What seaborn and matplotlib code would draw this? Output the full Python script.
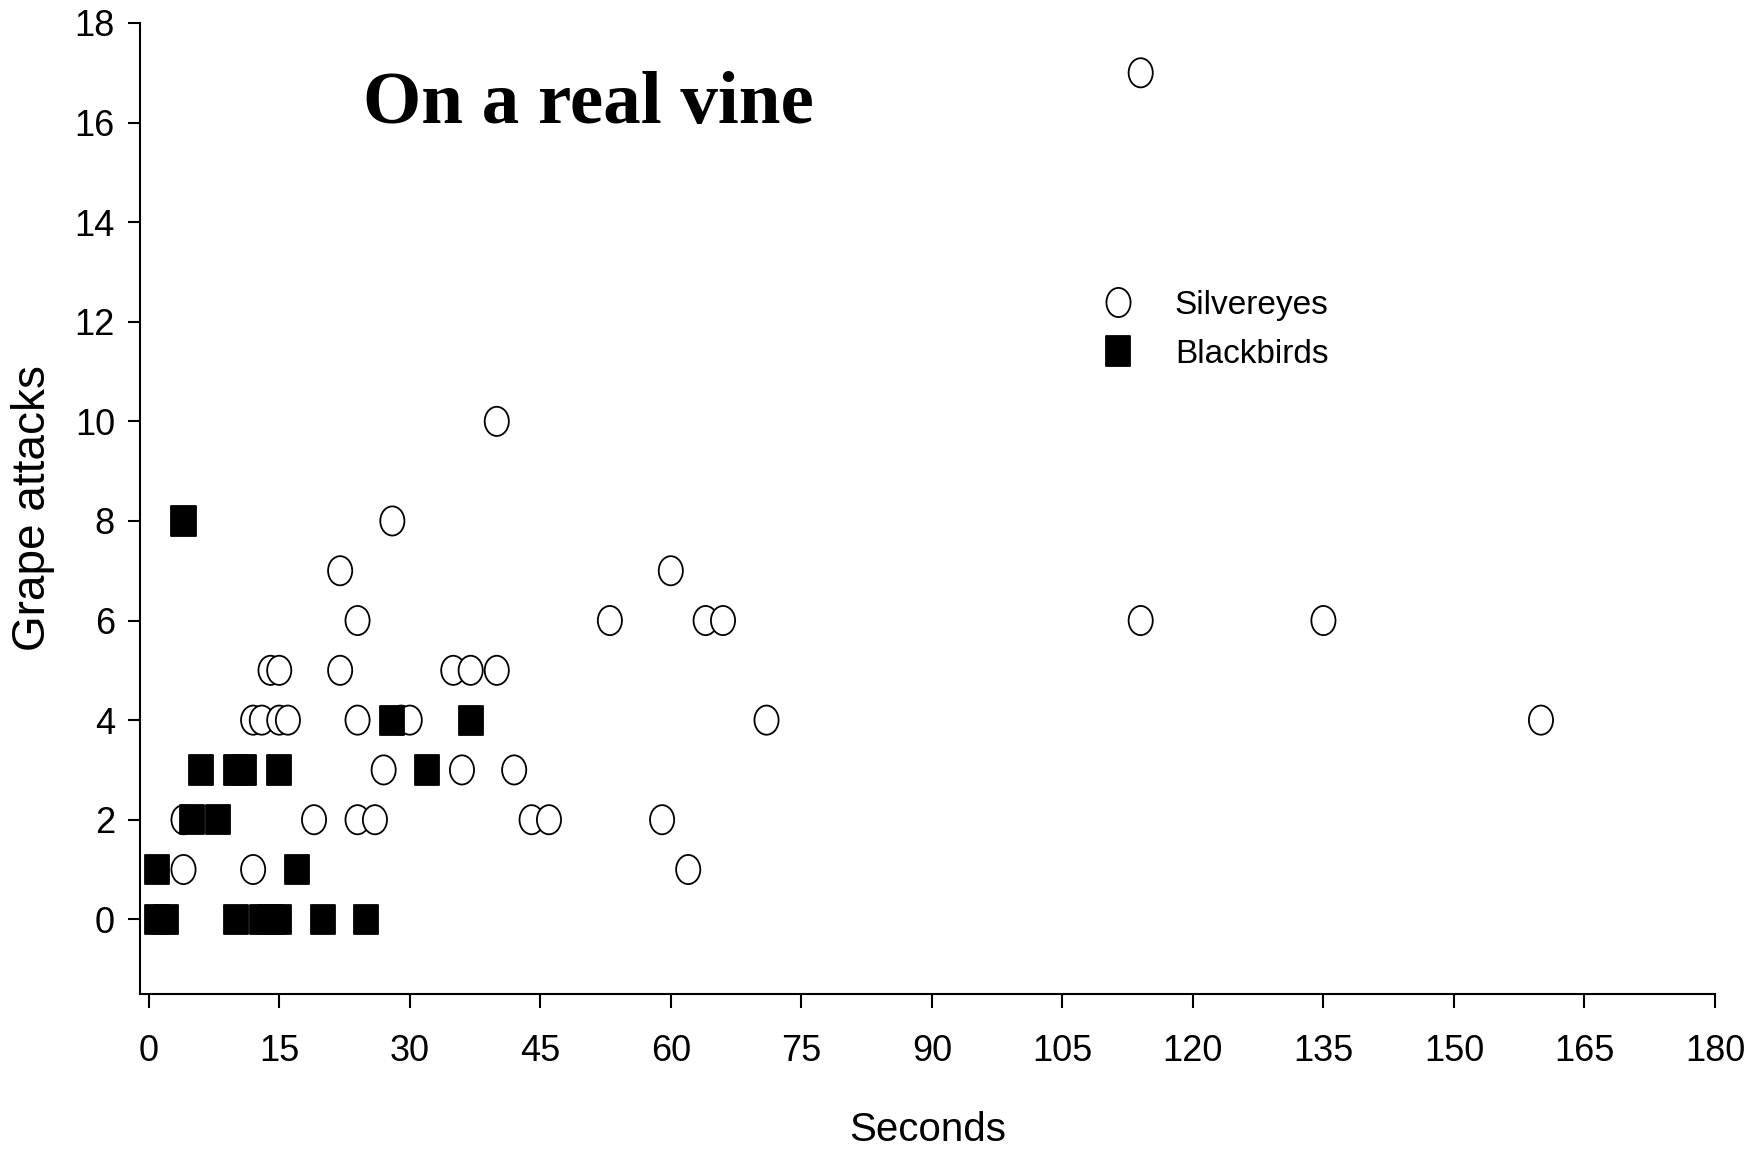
import numpy as np
import pandas as pd
import matplotlib
matplotlib.use("Agg")
import matplotlib.pyplot as plt
from matplotlib.path import Path
from matplotlib.transforms import Affine2D
from matplotlib.lines import Line2D
import seaborn as sns

# ---- data ----
silver_x = [114, 40, 28, 22, 60, 24, 53, 64, 66, 114, 135, 14, 15, 22, 35, 37, 40,
            12, 13, 15, 16, 24, 29, 30, 71, 160, 27, 36, 42, 4, 19, 24, 26, 44, 46, 59,
            4, 12, 62]
silver_y = [17, 10, 8, 7, 7, 6, 6, 6, 6, 6, 6, 5, 5, 5, 5, 5, 5,
            4, 4, 4, 4, 4, 4, 4, 4, 4, 3, 3, 3, 2, 2, 2, 2, 2, 2, 2,
            1, 1, 1]
black_x = [4, 28, 37, 6, 10, 11, 15, 32, 5, 8, 1, 17, 1, 2, 10, 13, 14, 15, 20, 25]
black_y = [8, 4, 4, 3, 3, 3, 3, 3, 2, 2, 1, 1, 0, 0, 0, 0, 0, 0, 0, 0]
series_names = ["Silvereyes", "Blackbirds"]
x_ticks = list(range(0, 181, 15))
y_ticks = list(range(0, 19, 2))
title_text = "On a real vine"
x_label = "Seconds"
y_label = "Grape attacks"

df = pd.concat([
    pd.DataFrame({"Seconds": silver_x, "Attacks": silver_y, "Bird": series_names[0]}),
    pd.DataFrame({"Seconds": black_x, "Attacks": black_y, "Bird": series_names[1]}),
], ignore_index=True)

sns.set_theme(style="ticks")
plt.rcParams["font.family"] = ["Liberation Sans", "DejaVu Sans"]
plt.rcParams["text.color"] = "black"
plt.rcParams["axes.labelcolor"] = "black"
plt.rcParams["xtick.color"] = "black"
plt.rcParams["ytick.color"] = "black"
plt.rcParams["axes.edgecolor"] = "black"

# elliptical / rectangular markers (taller than wide, as in the reference)
aspect = 24 / 29
ell = Affine2D().scale(aspect, 1.0).transform_path(Path.unit_circle())
rect = Path([(-aspect, -1), (aspect, -1), (aspect, 1), (-aspect, 1), (-aspect, -1)],
            [Path.MOVETO, Path.LINETO, Path.LINETO, Path.LINETO, Path.CLOSEPOLY])

fig = plt.figure(figsize=(17.65, 11.55), dpi=100)
ax = fig.add_axes([140 / 1765, 1 - 994 / 1155, (1715 - 140) / 1765, (994 - 23) / 1155])

sns.scatterplot(data=df, x="Seconds", y="Attacks", hue="Bird", style="Bird",
                palette={series_names[0]: "white", series_names[1]: "black"},
                markers={series_names[0]: ell, series_names[1]: rect},
                s=441, edgecolor="black", linewidth=1.3, legend=False, ax=ax, zorder=3)

ax.set_xlim(-1, 180)
ax.set_ylim(-1.5, 18)
ax.set_xticks(x_ticks)
ax.set_yticks(y_ticks)
sns.despine(ax=ax)
for sp in ("left", "bottom"):
    ax.spines[sp].set_linewidth(1.5)
    ax.spines[sp].set_color("black")
ax.tick_params(axis="x", length=10, width=1.5, pad=19, labelsize=26, colors="black")
ax.tick_params(axis="y", length=9, width=1.5, pad=9, labelsize=26, colors="black")

ax.set_xlabel(x_label, fontsize=29, color="black")
ax.set_ylabel(y_label, fontsize=33, color="black")
ax.xaxis.set_label_coords(0.5, -0.121)
ax.yaxis.set_label_coords(-0.054, 0.5)

ax.text(24.6, 16, title_text, family=["Liberation Serif", "DejaVu Serif"],
        fontweight="bold", fontsize=54, ha="left", va="baseline", color="black")

handles = [
    Line2D([], [], marker=ell, ms=21, mfc="white", mec="black", mew=1.3, ls="none"),
    Line2D([], [], marker=rect, ms=21, mfc="black", mec="black", mew=1.3, ls="none"),
]
leg = ax.legend(handles, series_names, loc="center left", bbox_to_anchor=(0.6105, 0.684),
                frameon=False, fontsize=24, handlelength=1.0, handletextpad=1.2,
                labelspacing=0.55, borderpad=0, borderaxespad=0)
for t in leg.get_texts():
    t.set_color("black")

fig.savefig("out.png", dpi=100, facecolor="white")
